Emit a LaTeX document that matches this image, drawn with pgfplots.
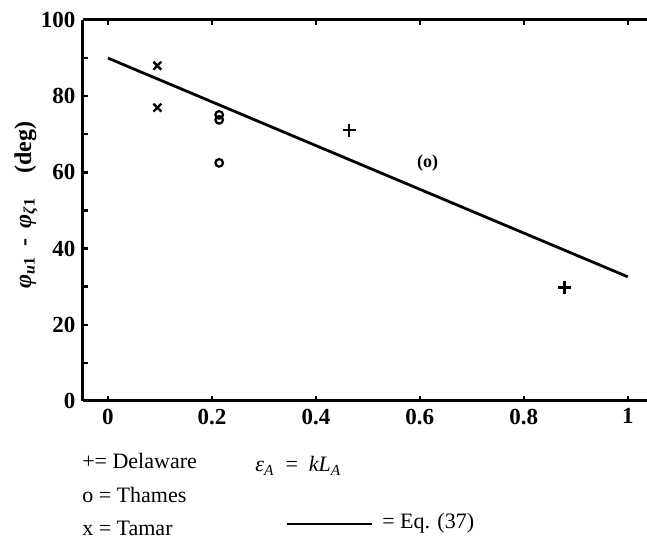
\documentclass[border=0pt]{standalone}
\usepackage{fontspec}
\setmainfont{Liberation Serif}
\usepackage{pgfplots}
\pgfplotsset{compat=1.18}

\begin{document}
\fontsize{11pt}{13pt}\selectfont
\begin{tikzpicture}
\begin{axis}[
  name=ax,
  scale only axis, width=282pt, height=190.5pt,
  xmin=-0.048, xmax=1.037, ymin=0, ymax=100,
  axis x line=box, axis y line=left,
  axis line style={line width=1.5pt, -},
  xtick={0,0.2,0.4,0.6,0.8,1}, ytick={0,20,40,60,80,100},
  minor y tick num=1,
  xticklabels={0,0.2,0.4,0.6,0.8,1},
  tick align=inside, major tick length=2.5pt, minor tick length=2.5pt,
  tick style={line width=1.2pt, black},
  ticklabel style={font=\fontsize{11.5pt}{13pt}\selectfont\bfseries},
  /pgf/number format/assume math mode=true,
  clip=false,
  ylabel={\textbf{\textit{φ}\textsubscript{\textit{u}1}\, - \,\textit{φ}\textsubscript{\textit{ζ}1}\quad(deg)}},
  ylabel style={at={(rel axis cs:-0.101,0.514)}, anchor=center, font=\fontsize{12pt}{14pt}\selectfont},
]
% Eq. (37)
\addplot[black, line width=1.4pt] coordinates {(0,90) (1,32.6)};
% Delaware
\addplot[only marks, mark=+, mark size=3.3pt, mark options={line width=1.2pt}] coordinates {(0.464,71.1) (0.878,29.8)};
% Thames
\addplot[only marks, mark=o, mark size=1.9pt, mark options={line width=1.1pt}] coordinates {(0.214,75.1) (0.214,73.8) (0.214,62.5)};
\addplot[only marks, mark=text, text mark={\fontsize{9pt}{10pt}\selectfont\textbf{(o)}}] coordinates {(0.615,62.4)};
% Tamar
\addplot[only marks, mark=x, mark size=2.8pt, mark options={line width=1.2pt}] coordinates {(0.095,88) (0.095,77)};

\node[anchor=west, inner sep=0] at (rel axis cs:-0.002,-0.158) {+= Delaware};
\node[anchor=west, inner sep=0] at (rel axis cs:-0.002,-0.246) {o = Thames};
\node[anchor=west, inner sep=0] at (rel axis cs:-0.002,-0.334) {x = Tamar};
\node[anchor=west, inner sep=0] at (rel axis cs:0.305,-0.170) {\textit{ε}\textsubscript{\textit{A}}~ = ~\textit{kL}\textsubscript{\textit{A}}};
\draw[line width=0.9pt] (rel axis cs:0.362,-0.322) -- (rel axis cs:0.512,-0.322);
\node[anchor=west, inner sep=0] at (rel axis cs:0.530,-0.322) {= Eq. (37)};
\end{axis}
\pgfresetboundingbox
\path[use as bounding box] ([xshift=-41.5pt,yshift=-69pt]ax.south west) rectangle ([yshift=10pt]ax.north east);
\end{tikzpicture}
\end{document}
